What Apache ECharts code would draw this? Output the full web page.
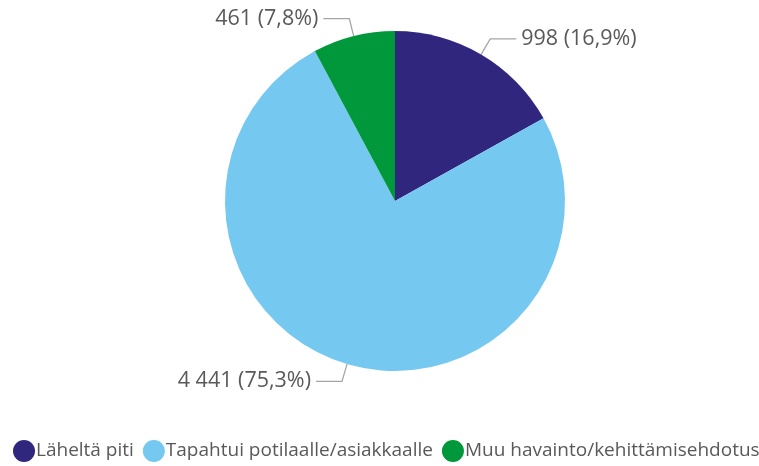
<!DOCTYPE html>
<html><head><meta charset="utf-8">
<script src="https://cdn.jsdelivr.net/npm/echarts@6/dist/echarts.min.js"></script>
<style>html,body{margin:0;padding:0;background:#fff}#c{width:759px;height:466px}</style>
</head><body><div id="c"></div>
<script>
const categories = ['Läheltä piti', 'Tapahtui potilaalle/asiakkaalle', 'Muu havainto/kehittämisehdotus'];
const values = [998, 4441, 461];
const colors = ['#30267e', '#75c9f1', '#00983a'];
const total = values.reduce((a, b) => a + b, 0);
function fmtNum(n) { return String(n).replace(/\B(?=(\d{3})+(?!\d))/g, ' '); }
const chart = echarts.init(document.getElementById('c'));
chart.setOption({
  animation: false,
  color: colors,
  textStyle: { fontFamily: 'Open Sans' },
  legend: {
    bottom: -1, left: 8, width: 800,
    padding: [5, 0, 5, 5],
    icon: 'circle', itemWidth: 22, itemHeight: 22, itemGap: 9,
    textStyle: { fontSize: 19, color: '#595959', fontFamily: 'Open Sans', padding: [0, 0, 0, -4] },
    data: categories
  },
  series: [{
    type: 'pie',
    center: [395, 201],
    radius: 170,
    startAngle: 90,
    clockwise: true,
    itemStyle: { borderWidth: 0 },
    label: {
      color: '#595959', fontSize: 21.5, fontFamily: 'Open Sans',
      formatter: p => fmtNum(p.value) + ' (' + (p.value / total * 100).toFixed(1).replace('.', ',') + '%)'
    },
    labelLine: { length: 18, length2: 26, lineStyle: { color: '#a6a6a6', width: 1.3 } },
    data: categories.map((c, i) => ({ name: c, value: values[i] }))
  }]
});
</script></body></html>
